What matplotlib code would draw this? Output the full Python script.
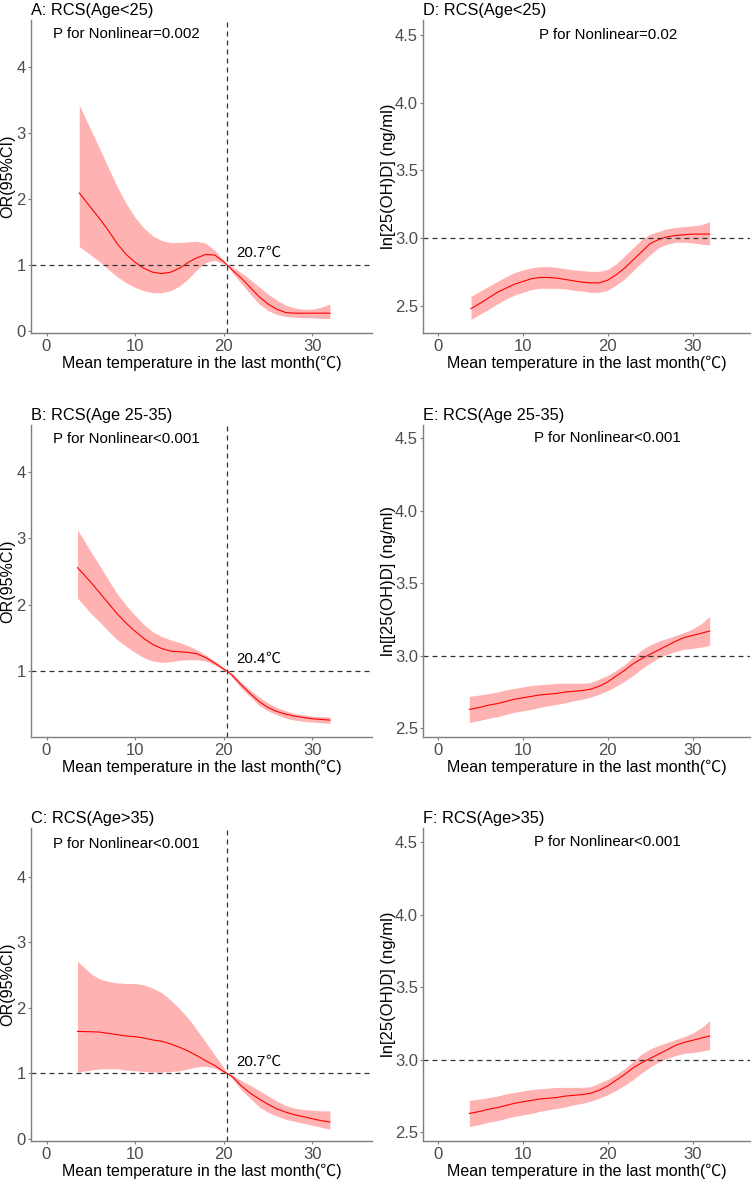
import numpy as np
import matplotlib
matplotlib.use('Agg')
import matplotlib.pyplot as plt

plt.rcParams['font.family'] = ['Liberation Sans', 'Noto Sans CJK SC', 'DejaVu Sans']

# ---- left column: OR (95%CI) vs mean temperature ----
grid_mid = [5, 6, 7, 8, 9, 10, 11, 12, 13, 14, 15, 16, 17, 18, 19, 20, 20.4,
            21, 22, 23, 24, 25, 26, 27, 28, 29, 30, 31, 32]

a_x = [3.7] + grid_mid
a_or = [2.09, 1.87, 1.70, 1.52, 1.32, 1.16, 1.04, 0.95, 0.89, 0.87, 0.89, 0.95, 1.04, 1.11, 1.16,
        1.15, 1.05, 1.00, 0.92, 0.80, 0.66, 0.52, 0.41, 0.33, 0.28, 0.27, 0.27, 0.27, 0.27, 0.27]
a_hi = [3.42, 3.05, 2.76, 2.47, 2.18, 1.93, 1.72, 1.56, 1.44, 1.37, 1.34, 1.34, 1.35, 1.36, 1.33,
        1.22, 1.07, 1.00, 0.97, 0.88, 0.78, 0.67, 0.56, 0.47, 0.39, 0.35, 0.33, 0.33, 0.36, 0.41]
a_lo = [1.28, 1.15, 1.05, 0.93, 0.82, 0.73, 0.66, 0.61, 0.58, 0.58, 0.61, 0.68, 0.79, 0.93, 1.04,
        1.07, 1.02, 1.00, 0.88, 0.72, 0.56, 0.41, 0.31, 0.25, 0.22, 0.21, 0.20, 0.20, 0.19, 0.19]

b_x = [3.5] + grid_mid
b_or = [2.56, 2.34, 2.18, 2.02, 1.86, 1.72, 1.60, 1.49, 1.40, 1.34, 1.30, 1.29, 1.28, 1.26, 1.20,
        1.12, 1.03, 1.00, 0.93, 0.79, 0.66, 0.54, 0.45, 0.39, 0.35, 0.32, 0.30, 0.28, 0.27, 0.26]
b_hi = [3.13, 2.80, 2.59, 2.37, 2.16, 1.99, 1.84, 1.70, 1.59, 1.52, 1.47, 1.43, 1.38, 1.32, 1.24,
        1.15, 1.05, 1.00, 0.96, 0.83, 0.71, 0.61, 0.52, 0.45, 0.40, 0.36, 0.34, 0.32, 0.31, 0.31]
b_lo = [2.10, 1.87, 1.74, 1.60, 1.47, 1.37, 1.28, 1.20, 1.15, 1.13, 1.14, 1.16, 1.17, 1.17, 1.15,
        1.09, 1.01, 1.00, 0.90, 0.74, 0.61, 0.48, 0.40, 0.34, 0.29, 0.26, 0.24, 0.23, 0.22, 0.21]

c_x = [3.5] + grid_mid
c_or = [1.64, 1.635, 1.63, 1.61, 1.59, 1.57, 1.56, 1.54, 1.51, 1.49, 1.45, 1.40, 1.34, 1.27, 1.19,
        1.12, 1.03, 1.00, 0.95, 0.81, 0.70, 0.61, 0.53, 0.46, 0.41, 0.37, 0.34, 0.31, 0.28, 0.26]
c_hi = [2.71, 2.52, 2.44, 2.40, 2.38, 2.37, 2.37, 2.35, 2.30, 2.23, 2.12, 1.99, 1.84, 1.66, 1.47,
        1.28, 1.09, 1.00, 0.97, 0.89, 0.82, 0.74, 0.66, 0.58, 0.51, 0.47, 0.45, 0.44, 0.43, 0.43]
c_lo = [1.02, 1.05, 1.07, 1.07, 1.07, 1.05, 1.04, 1.03, 1.02, 1.02, 1.03, 1.04, 1.07, 1.10, 1.11,
        1.08, 1.01, 1.00, 0.91, 0.75, 0.62, 0.49, 0.41, 0.35, 0.30, 0.27, 0.24, 0.21, 0.18, 0.15]

ref_x = [20.4, 20.4, 20.4]
ref_values = ['20.7', '20.4', '20.7']

# ---- right column: ln[25(OH)D] vs mean temperature ----
grid_r = [5, 6, 7, 8, 9, 10, 11, 12, 13, 14, 15, 16, 17, 18, 19, 20,
          21, 22, 23, 24, 25, 26, 27, 28, 29, 30, 31, 32]

d_x = [3.9] + grid_r
d_fit = [2.48, 2.52, 2.56, 2.60, 2.63, 2.66, 2.68, 2.70, 2.71, 2.71, 2.705, 2.695, 2.685, 2.675, 2.67,
         2.67, 2.69, 2.73, 2.78, 2.84, 2.90, 2.96, 2.99, 3.01, 3.02, 3.025, 3.03, 3.03, 3.03]
d_hi = [2.57, 2.61, 2.645, 2.68, 2.715, 2.745, 2.765, 2.78, 2.79, 2.79, 2.785, 2.775, 2.765, 2.76, 2.755,
        2.755, 2.77, 2.81, 2.87, 2.93, 2.99, 3.03, 3.05, 3.07, 3.08, 3.085, 3.09, 3.10, 3.12]
d_lo = [2.40, 2.44, 2.475, 2.515, 2.55, 2.58, 2.60, 2.62, 2.63, 2.63, 2.63, 2.625, 2.615, 2.61, 2.60,
        2.60, 2.615, 2.655, 2.70, 2.76, 2.82, 2.88, 2.93, 2.955, 2.97, 2.97, 2.965, 2.955, 2.95]

e_x = [3.7] + grid_r
e_fit = [2.63, 2.645, 2.66, 2.67, 2.685, 2.70, 2.71, 2.72, 2.73, 2.735, 2.74, 2.75, 2.755, 2.76, 2.77,
         2.79, 2.82, 2.86, 2.90, 2.945, 2.98, 3.01, 3.04, 3.07, 3.10, 3.125, 3.14, 3.155, 3.17]
e_hi = [2.72, 2.73, 2.74, 2.75, 2.765, 2.775, 2.785, 2.795, 2.80, 2.805, 2.81, 2.81, 2.81, 2.81, 2.815,
        2.84, 2.865, 2.90, 2.94, 2.99, 3.04, 3.075, 3.10, 3.12, 3.14, 3.16, 3.185, 3.22, 3.27]
e_lo = [2.54, 2.555, 2.57, 2.58, 2.595, 2.61, 2.62, 2.63, 2.645, 2.655, 2.665, 2.675, 2.69, 2.70, 2.715,
        2.735, 2.76, 2.79, 2.825, 2.865, 2.91, 2.95, 2.985, 3.01, 3.03, 3.045, 3.05, 3.06, 3.07]

f_x = [3.7] + grid_r
f_fit = [2.63, 2.645, 2.66, 2.67, 2.685, 2.70, 2.71, 2.72, 2.73, 2.735, 2.74, 2.75, 2.755, 2.76, 2.77,
         2.79, 2.82, 2.86, 2.90, 2.945, 2.98, 3.01, 3.04, 3.07, 3.10, 3.12, 3.135, 3.15, 3.165]
f_hi = [2.72, 2.73, 2.74, 2.75, 2.765, 2.775, 2.785, 2.795, 2.80, 2.805, 2.81, 2.81, 2.81, 2.81, 2.815,
        2.84, 2.865, 2.90, 2.94, 2.99, 3.04, 3.075, 3.10, 3.12, 3.14, 3.16, 3.185, 3.22, 3.27]
f_lo = [2.54, 2.555, 2.57, 2.58, 2.595, 2.61, 2.62, 2.63, 2.645, 2.655, 2.665, 2.675, 2.69, 2.70, 2.715,
        2.735, 2.76, 2.79, 2.825, 2.865, 2.91, 2.95, 2.985, 3.01, 3.03, 3.045, 3.05, 3.06, 3.07]

left_titles = ['A: RCS(Age<25)', 'B: RCS(Age 25-35)', 'C: RCS(Age>35)']
right_titles = ['D: RCS(Age<25)', 'E: RCS(Age 25-35)', 'F: RCS(Age>35)']
left_p = ['P for Nonlinear=0.002', 'P for Nonlinear<0.001', 'P for Nonlinear<0.001']
right_p = ['P for Nonlinear=0.02', 'P for Nonlinear<0.001', 'P for Nonlinear<0.001']
right_ylabels = ['ln[25(OH)D] (ng/ml)', 'ln[[25(OH)D] (ng/ml)', 'ln[25(OH)D] (ng/ml)']
x_label = 'Mean temperature in the last month(℃)'
or_ticks = [0, 1, 2, 3, 4]
vd_ticks = [2.5, 3.0, 3.5, 4.0, 4.5]
x_ticks = [0, 10, 20, 30]

left_data = [(a_x, a_or, a_lo, a_hi), (b_x, b_or, b_lo, b_hi), (c_x, c_or, c_lo, c_hi)]
right_data = [(d_x, d_fit, d_lo, d_hi), (e_x, e_fit, e_lo, e_hi), (f_x, f_fit, f_lo, f_hi)]
left_ylims = [(-0.03, 4.71), (0.005, 4.71), (-0.03, 4.74)]
right_ylims = [(2.30, 4.61), (2.44, 4.59), (2.44, 4.60)]

W, H = 752, 1181
fig = plt.figure(figsize=(W / 100, H / 100), dpi=100)
fig.patch.set_facecolor('white')

# axes boxes in pixels: (left, right, top, bottom)
row_tb = [(20, 333), (425, 737), (828, 1141)]
col_lr = [(31, 372), (423, 750)]

gray = '#7f7f7f'
dash = (0, (4, 3.2))
cjk = ['Noto Sans CJK SC', 'DejaVu Sans']


def make_ax(lr, tb):
    l, r = lr
    t, b = tb
    ax = fig.add_axes([l / W, 1 - b / H, (r - l) / W, (b - t) / H])
    for s in ['top', 'right']:
        ax.spines[s].set_visible(False)
    for s in ['left', 'bottom']:
        ax.spines[s].set_color(gray)
        ax.spines[s].set_linewidth(1.0)
    ax.tick_params(axis='both', colors=gray, labelcolor='#4d4d4d', labelsize=12,
                   length=2.5, width=0.8)
    ax.tick_params(axis='y', pad=1.2)
    ax.tick_params(axis='x', pad=2.0)
    ax.set_xlim(-1.75, 36.75)
    ax.set_xticks(x_ticks)
    ax.set_xlabel(x_label, fontsize=11.5, color='black', va='center')
    ax.xaxis.set_label_coords(0.5, -30 / (b - t))
    return ax


for i in range(3):
    x, y, lo, hi = left_data[i]
    ax = make_ax(col_lr[0], row_tb[i])
    ax.fill_between(x, lo, hi, color='red', alpha=0.3, linewidth=0)
    ax.plot(x, y, color='red', lw=0.8)
    ax.axhline(1, color='#333333', lw=0.9, ls=dash)
    ax.axvline(ref_x[i], color='#333333', lw=0.9, ls=dash)
    ax.set_ylim(*left_ylims[i])
    ax.set_yticks([t for t in or_ticks if t >= left_ylims[i][0]])
    ax.set_ylabel('OR(95%CI)', fontsize=11.6, color='black', va='center')
    ax.yaxis.set_label_coords(-0.067, 0.5)
    ax.set_title(left_titles[i], loc='left', fontsize=11.8, pad=3.6)
    ax.text(9, 4.5, left_p[i], fontsize=10.8, ha='center', va='center')
    num = ax.text(21.4, 1.18, ref_values[i], fontsize=10.8, ha='left', va='center')
    # the degree sign is drawn in the CJK face, as in the original
    ax.annotate('℃', xy=(1, 0.5), xycoords=num, ha='left', va='center',
                fontsize=10.8, family=cjk)

for i in range(3):
    x, y, lo, hi = right_data[i]
    ax = make_ax(col_lr[1], row_tb[i])
    ax.fill_between(x, lo, hi, color='red', alpha=0.3, linewidth=0)
    ax.plot(x, y, color='red', lw=0.8)
    ax.axhline(3.0, color='#333333', lw=0.9, ls=dash)
    ax.set_ylim(*right_ylims[i])
    ax.set_yticks(vd_ticks)
    ax.set_yticklabels([f'{t:.1f}' for t in vd_ticks])
    ax.set_ylabel(right_ylabels[i], fontsize=12, color='black', va='center')
    ax.yaxis.set_label_coords(-0.107, 0.5)
    ax.set_title(right_titles[i], loc='left', fontsize=11.8, pad=3.6)
    ax.text(20, 4.5, right_p[i], fontsize=10.8, ha='center', va='center')

fig.savefig('out.png', dpi=100, facecolor='white')
